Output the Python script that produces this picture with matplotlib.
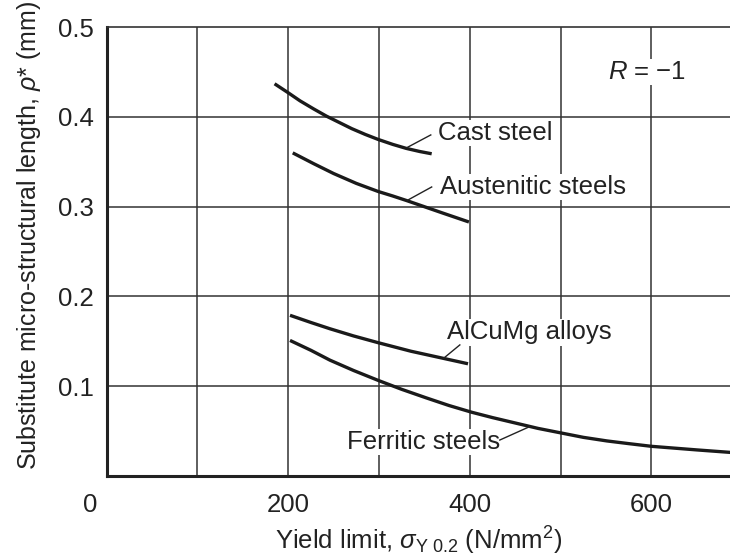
import matplotlib
matplotlib.use("Agg")
import matplotlib.pyplot as plt
import matplotlib.transforms as mtransforms

plt.rcParams['font.family'] = ['Liberation Sans', 'DejaVu Sans']
plt.rcParams['mathtext.fontset'] = 'custom'
plt.rcParams['mathtext.rm'] = 'Liberation Sans'
plt.rcParams['mathtext.it'] = 'Liberation Sans:italic'
plt.rcParams['mathtext.bf'] = 'Liberation Sans:bold'

# Data
cast_x = [185, 200, 213, 228, 242, 256, 270, 285, 299, 315, 330, 345, 358]
cast_y = [0.437, 0.427, 0.418, 0.409, 0.401, 0.394, 0.387, 0.3805, 0.375, 0.3695, 0.365, 0.3615, 0.359]

aust_x = [205, 228, 250, 275, 299, 315, 330, 350, 370, 399]
aust_y = [0.360, 0.348, 0.337, 0.326, 0.317, 0.312, 0.307, 0.300, 0.293, 0.283]

alcu_x = [202, 225, 246, 272, 299, 335, 371, 398]
alcu_y = [0.179, 0.171, 0.164, 0.156, 0.1485, 0.139, 0.131, 0.125]

ferr_x = [202, 225, 246, 272, 299, 325, 352, 377, 402, 425, 450, 475, 500, 525, 551, 575, 600, 625, 650, 670, 690]
ferr_y = [0.151, 0.140, 0.129, 0.1175, 0.1065, 0.0965, 0.087, 0.0785, 0.071, 0.065, 0.059, 0.053, 0.048, 0.043, 0.039, 0.036, 0.033, 0.031, 0.029, 0.0275, 0.026]

labels = ['Cast steel', 'Austenitic steels', 'AlCuMg alloys', 'Ferritic steels']
xticks = [0, 200, 400, 600]
yticks = [0.1, 0.2, 0.3, 0.4, 0.5]

fig = plt.figure(figsize=(7.3, 5.56), dpi=100)
ax = fig.add_axes([0.146, 0.144, 0.854, 0.807])
ax.set_xlim(0, 686.5)
ax.set_ylim(0, 0.5)

FS = 18.5
gc = '#333333'
for gx in range(100, 700, 100):
    ax.axvline(gx, color=gc, lw=1.1, zorder=1)
for gy in [0.1, 0.2, 0.3, 0.4]:
    ax.axhline(gy, color=gc, lw=1.1, zorder=1)

ax.spines['right'].set_visible(False)
ax.spines['top'].set_linewidth(1.2)
ax.spines['top'].set_color(gc)
ax.spines['left'].set_linewidth(2.2)
ax.spines['bottom'].set_linewidth(2.2)
ax.spines['left'].set_color('#222222')
ax.spines['bottom'].set_color('#222222')

for xs, ys in [(cast_x, cast_y), (aust_x, aust_y), (alcu_x, alcu_y), (ferr_x, ferr_y)]:
    ax.plot(xs, ys, color='#1a1a1a', lw=2.4, zorder=3, solid_capstyle='butt', solid_joinstyle='round')

ax.set_xticks(xticks)
ax.set_xticklabels([str(v) for v in xticks])
ax.set_yticks(yticks)
ax.set_yticklabels(['0.1', '0.2', '0.3', '0.4', '0.5'])
ax.tick_params(length=0, labelsize=FS, colors='#222222', pad=9)
ax.tick_params(axis='x', pad=12)
lbl0 = ax.get_xticklabels()[0]
lbl0.set_transform(lbl0.get_transform() + mtransforms.ScaledTranslation(-0.16, 0, fig.dpi_scale_trans))

ax.set_xlabel(r'Yield limit, $\sigma_{\mathrm{Y\ 0.2}}$ (N/mm$^2$)', fontsize=FS, color='#222222', labelpad=6)
ax.set_ylabel(r'Substitute micro-structural length, $\rho$* (mm)', fontsize=18, color='#222222')
ax.yaxis.set_label_coords(-0.102, 0.535)

bb = dict(facecolor='white', edgecolor='none', pad=1.0)
ax.text(365, 0.382, labels[0], fontsize=FS, va='center', ha='left', bbox=bb, zorder=4, color='#222222')
ax.text(367, 0.322, labels[1], fontsize=FS, va='center', ha='left', bbox=bb, zorder=4, color='#222222')
ax.text(375, 0.160, labels[2], fontsize=FS, va='center', ha='left', bbox=bb, zorder=4, color='#222222')
ax.text(433, 0.038, labels[3], fontsize=FS, va='center', ha='right', bbox=bb, zorder=4, color='#222222')
ax.text(552, 0.45, '$R$ = \u22121', fontsize=FS, va='center', ha='left', bbox=bb, zorder=4, color='#222222')

lk = dict(color='#222222', lw=1.0, zorder=5)
ax.plot([331, 357], [0.366, 0.380], **lk)
ax.plot([331, 358], [0.307, 0.322], **lk)
ax.plot([371, 389], [0.131, 0.146], **lk)
ax.plot([433, 466], [0.040, 0.055], **lk)

fig.savefig('out.png', dpi=100)
